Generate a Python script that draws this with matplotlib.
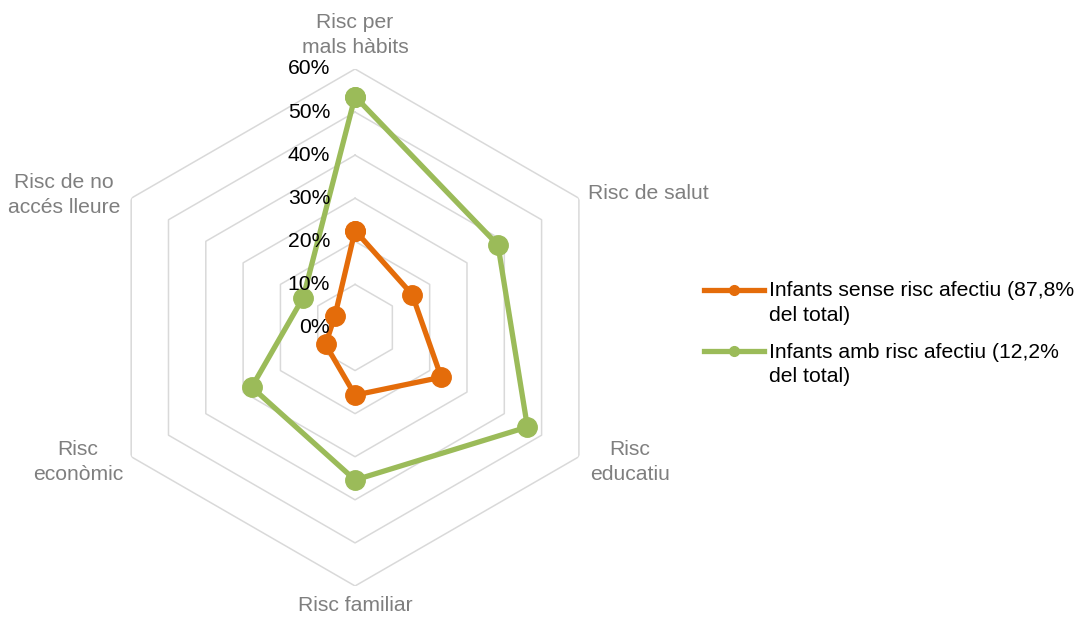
import numpy as np
import matplotlib.pyplot as plt
from matplotlib.lines import Line2D
from matplotlib.legend_handler import HandlerLine2D

plt.rcParams['font.family'] = ['Liberation Sans', 'DejaVu Sans']

# Data
categories = ['Risc per\nmals hàbits', 'Risc de salut', 'Risc\neducatiu',
              'Risc familiar', 'Risc\neconòmic', 'Risc de no\naccés lleure']
sense_risc = [22.5, 15.3, 23.1, 15.7, 7.9, 5.4]
amb_risc = [53.6, 38.3, 46.2, 35.4, 27.7, 13.9]
series_labels = ['Infants sense risc afectiu (87,8%\ndel total)',
                 'Infants amb risc afectiu (12,2%\ndel total)']
rticks = [0, 10, 20, 30, 40, 50, 60]

orange = '#E46C0A'
green = '#9BBB59'
gridc = '#D9D9D9'
labc = '#7F7F7F'
fs = 15.2


class FirstLineHandler(HandlerLine2D):
    # put the legend line next to the first text line, like Excel does
    def create_artists(self, legend, orig_handle, xdescent, ydescent, width,
                       height, fontsize, trans):
        arts = super().create_artists(legend, orig_handle, xdescent, ydescent,
                                      width, height, fontsize, trans)
        for a in arts:
            a.set_ydata(np.asarray(a.get_ydata()) + 0.62 * fontsize)
        return arts


n = len(categories)
angles = np.arange(n) * 2 * np.pi / n
ang_c = np.append(angles, angles[0])

fig = plt.figure(figsize=(10.8, 6.18), dpi=100)
ax = fig.add_axes([0.0894, 0.0518, 0.4787, 0.8366], projection='polar')
ax.set_theta_offset(np.pi / 2)
ax.set_theta_direction(-1)
ax.set_ylim(0, rticks[-1])
ax.set_axis_off()

# hexagonal grid
for r in rticks[1:]:
    ax.plot(ang_c, [r] * (n + 1), color=gridc, lw=1.1, zorder=1)

# series
for vals, col in [(sense_risc, orange), (amb_risc, green)]:
    v = np.append(vals, vals[0])
    ax.plot(ang_c, v, color=col, lw=3.8, marker='o', ms=14, zorder=3)

# radial tick labels
for r in rticks:
    ax.annotate(f'{r}%', xy=(0, r), xytext=(-25, 0), textcoords='offset pixels',
                ha='right', va='center', fontsize=fs, color='black', zorder=4)

# category labels (offsets from the outer vertex, in pixels)
offsets = [(0, 34, 'center'), (9, 5, 'left'), (51, -5, 'center'),
           (0, -20, 'center'), (-53, -5, 'center'), (-67, 3, 'center')]
for a, lab, (dx, dy, ha) in zip(angles, categories, offsets):
    ax.annotate(lab, xy=(a, rticks[-1]), xytext=(dx, dy), textcoords='offset pixels',
                ha=ha, va='center', fontsize=fs, color=labc, linespacing=1.38,
                annotation_clip=False)

handles = [Line2D([], [], color=orange, lw=3.8, marker='o', ms=7),
           Line2D([], [], color=green, lw=3.8, marker='o', ms=7)]
leg = fig.legend(handles, series_labels, loc='upper left', bbox_to_anchor=(0.652, 0.545),
                 frameon=False, fontsize=fs, handlelength=2.85, handletextpad=0.22,
                 borderpad=0, borderaxespad=0, labelspacing=0.84,
                 handler_map={Line2D: FirstLineHandler()})
for t in leg.get_texts():
    t.set_linespacing(1.38)

plt.savefig('out.png', dpi=100)
